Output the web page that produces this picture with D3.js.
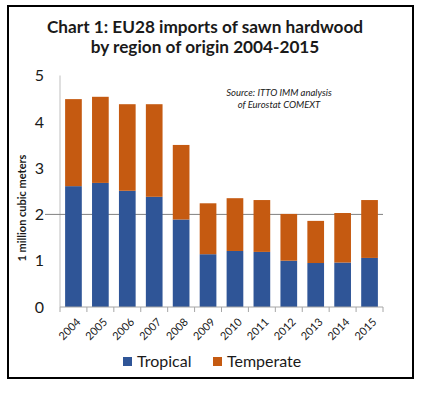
<!DOCTYPE html>
<html>
<head>
<meta charset="utf-8">
<script src="https://cdn.jsdelivr.net/npm/d3@7"></script>
<style>
  body { margin: 0; background: #fff; }
  text { font-family: Lato, "Open Sans", sans-serif; }
</style>
</head>
<body>
<div id="chart"></div>
<script>
// Data (million m3)
const years = ["2004", "2005", "2006", "2007", "2008", "2009", "2010", "2011", "2012", "2013", "2014", "2015"];
const tropical = [2.61, 2.68, 2.51, 2.38, 1.89, 1.14, 1.21, 1.19, 1.00, 0.95, 0.96, 1.06];
const temperate = [1.88, 1.86, 1.87, 2.00, 1.61, 1.10, 1.14, 1.12, 1.01, 0.91, 1.07, 1.25];
const seriesNames = ["Tropical", "Temperate"];
const yTicks = [0, 1, 2, 3, 4, 5];

const width = 421, height = 393;
const colors = { Tropical: "#2F5597", Temperate: "#C55A11" };

const svg = d3.select("#chart").append("svg")
  .attr("width", width)
  .attr("height", height);

// outer frame
svg.append("rect")
  .attr("x", 8).attr("y", 6)
  .attr("width", 405).attr("height", 372)
  .attr("fill", "none")
  .attr("stroke", "#000")
  .attr("stroke-width", 2);

// title
const title = svg.append("text")
  .attr("text-anchor", "middle")
  .attr("font-weight", "bold")
  .attr("font-size", 17.2)
  .attr("fill", "#1a1a1a");
title.append("tspan").attr("x", 205).attr("y", 33).text("Chart 1: EU28 imports of sawn hardwood");
title.append("tspan").attr("x", 205).attr("y", 53).text("by region of origin 2004-2015");

const data = years.map((y, i) => ({ year: y, Tropical: tropical[i], Temperate: temperate[i] }));
const stacked = d3.stack().keys(seriesNames)(data);

const x = d3.scaleBand().domain(years).range([60, 383]).paddingInner(0.38).paddingOuter(0.19);
const y = d3.scaleLinear().domain([0, 5]).range([307, 75.5]);

// y axis line
svg.append("line")
  .attr("x1", 60).attr("x2", 60)
  .attr("y1", y(5)).attr("y2", y(0))
  .attr("stroke", "#bfbfbf");

// gridline at 2
svg.append("line")
  .attr("x1", 45).attr("x2", 383)
  .attr("y1", y(2)).attr("y2", y(2))
  .attr("stroke", "#808080");

// bars
svg.append("g").selectAll("g")
  .data(stacked)
  .enter().append("g")
  .attr("fill", d => colors[d.key])
  .selectAll("rect")
  .data(d => d)
  .enter().append("rect")
  .attr("x", d => x(d.data.year))
  .attr("y", d => y(d[1]))
  .attr("width", x.bandwidth())
  .attr("height", d => y(d[0]) - y(d[1]));

// y tick labels
svg.append("g").selectAll("text")
  .data(yTicks)
  .enter().append("text")
  .attr("x", 44)
  .attr("y", d => y(d))
  .attr("dy", "0.36em")
  .attr("text-anchor", "end")
  .attr("font-size", 16)
  .attr("fill", "#1a1a1a")
  .text(d => d);

// x axis line and ticks at band boundaries
svg.append("line")
  .attr("x1", 60).attr("x2", 383)
  .attr("y1", y(0)).attr("y2", y(0))
  .attr("stroke", "#a6a6a6");
const step = x.step();
svg.append("g").selectAll("line")
  .data(d3.range(years.length + 1))
  .enter().append("line")
  .attr("x1", i => 60 + i * step).attr("x2", i => 60 + i * step)
  .attr("y1", y(0)).attr("y2", y(0) + 5)
  .attr("stroke", "#a6a6a6");

// x tick labels rotated
svg.append("g").selectAll("text")
  .data(years)
  .enter().append("text")
  .attr("transform", d => "translate(" + (x(d) + x.bandwidth() / 2 + 5) + "," + 320 + ") rotate(-45)")
  .attr("text-anchor", "end")
  .attr("dy", "0.35em")
  .attr("font-size", 11)
  .attr("fill", "#1a1a1a")
  .text(d => d);

// y axis title
svg.append("text")
  .attr("transform", "translate(26,208) rotate(-90)")
  .attr("text-anchor", "middle")
  .attr("font-weight", "bold")
  .attr("font-size", 11)
  .attr("fill", "#1a1a1a")
  .text("1 million cubic meters");

// source note
const src = svg.append("text")
  .attr("text-anchor", "middle")
  .attr("font-style", "italic")
  .attr("font-size", 9.5)
  .attr("fill", "#1a1a1a");
src.append("tspan").attr("x", 279).attr("y", 96).text("Source: ITTO IMM analysis");
src.append("tspan").attr("x", 279).attr("y", 108).text("of Eurostat COMEXT");

// legend
const legend = svg.append("g");
const legendX = [123, 213];
seriesNames.forEach((name, i) => {
  legend.append("rect")
    .attr("x", legendX[i]).attr("y", 357)
    .attr("width", 9).attr("height", 9)
    .attr("fill", colors[name]);
  legend.append("text")
    .attr("x", legendX[i] + 14).attr("y", 361.5)
    .attr("dy", "0.36em")
    .attr("font-size", 16)
    .attr("fill", "#1a1a1a")
    .text(name);
});
</script>
</body>
</html>
